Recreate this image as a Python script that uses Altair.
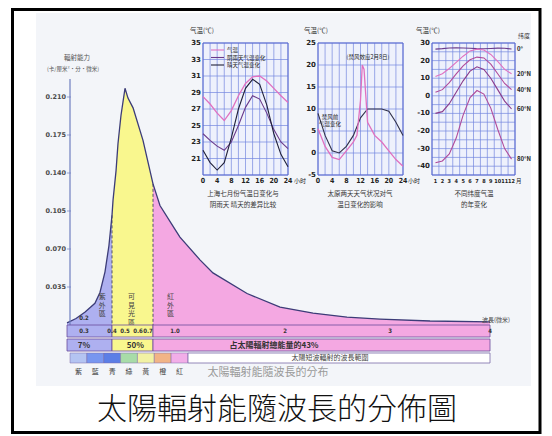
import altair as alt
import pandas as pd

SANS = "Noto Sans CJK TC"
SC = "Noto Sans CJK SC"
NARROW = "Liberation Sans Narrow, DejaVu Sans Condensed, Liberation Sans"

# ---------------- main spectrum data ----------------
WAVE = [0.2, 0.253, 0.304, 0.339, 0.357, 0.375, 0.389, 0.4, 0.408, 0.431, 0.446, 0.469, 0.5, 0.523,
        0.562, 0.65, 0.76, 0.836, 1.0, 1.045, 1.227, 1.345, 1.655, 1.955, 2.267, 2.59, 2.905, 3.4, 4.0]
ENERGY = [0.002, 0.006, 0.012, 0.020, 0.030, 0.049, 0.073, 0.101, 0.115, 0.142, 0.167, 0.193, 0.218, 0.209,
          0.200, 0.170, 0.130, 0.110, 0.088, 0.081, 0.060, 0.048, 0.029, 0.0165, 0.011, 0.0073, 0.0055, 0.0037, 0.0028]
REGION_EDGES = [0.2, 0.4, 0.76, 4.0]
REGION_NAMES = ["紫\n外\n區", "可\n見\n光\n區", "紅\n外\n區"]
REGION_COLORS = ["#aeb0f0", "#f9f78e", "#f4a8e2"]
REGION_SHARE = ["7%", "50%", "占太陽輻射總能量的43%"]
Y_TICKS = [0.035, 0.070, 0.105, 0.140, 0.175, 0.210]
WL_TICKS = [0.3, 0.4, 0.5, 0.6, 0.7, 1.0, 2, 3, 4]
WL_LABELS = ["0.3", "0.4", "0.5", "0.6", "0.7", "1.0", "2", "3", "4"]
SPEC_NAMES = ["紫", "藍", "青", "綠", "黃", "橙", "紅"]
SPEC_COLORS = ["#b4c4f2", "#7896f0", "#5c7ee6", "#a8dca8", "#f2f2a4", "#f2b486", "#f2aee8"]

# ---------------- inset data ----------------
HOURS = [0, 2, 4, 6, 8, 10, 12, 14, 16, 18, 20, 22, 24]
SH_TEMP = [28.5, 27.6, 26.5, 25.6, 26.8, 28.6, 30.1, 30.9, 31.0, 30.4, 29.5, 28.6, 27.8]
SH_RAIN = [24.0, 23.2, 22.5, 22.0, 23.0, 25.0, 27.2, 28.6, 28.2, 26.5, 24.5, 23.0, 22.2]
SH_SUN = [22.0, 20.5, 19.6, 20.5, 23.5, 27.0, 29.5, 30.6, 30.0, 27.5, 24.0, 21.5, 20.0]
I1_YT = [21, 23, 25, 27, 29, 31, 33, 35]

FOEHN_H = [0, 2, 4, 6, 8, 10, 11, 12, 12.5, 13, 14, 16, 18, 20, 22, 24]
FOEHN_T = [5.5, 1.5, -1.0, -1.5, 0.5, 2.5, 4.0, 12.0, 20.0, 19.0, 7.0, 4.0, 2.5, 0.5, -1.5, -3.0]
NORMAL_T = [9, 4, 0.5, 0, 1.5, 4, 8, 10, 10, 10, 9.5, 7, 4]
I2_YT = [-5, 0, 5, 10, 15, 20, 25]

MONTHS = list(range(1, 13))
LAT_00 = [26.5, 26.8, 27.2, 27.3, 27.2, 27.0, 26.8, 26.7, 26.9, 27.1, 27.0, 26.6]
LAT_20 = [11, 12.5, 15.5, 19, 22.5, 25.5, 26.5, 26, 23.5, 19.5, 15, 12.5]
LAT_40 = [2, 3.5, 7.5, 12.5, 17, 20.5, 22, 21.5, 18, 12.5, 7, 3.5]
LAT_60 = [-10, -9, -4.5, 2, 8.5, 14, 16.5, 15, 10, 3.5, -3, -7.5]
LAT_80 = [-38, -37, -33, -24, -11, -1, 3, 1, -7, -19, -30, -36]
LAT_NAMES = ["0°", "20°N", "40°N", "60°N", "80°N"]
I3_YT = [-40, -30, -20, -10, 0, 10, 20, 30]

W, H = 536, 426


def P(v):
    return v - 8


def one():
    return pd.DataFrame({"k": [0]})


def label(text, x, y, size=7, color="#333333", align="center", baseline="middle",
          font=SC, weight="normal", lh=None):
    kw = dict(fontSize=size, color=color, align=align, baseline=baseline, font=font, fontWeight=weight)
    if "\n" in text:
        kw["lineBreak"] = "\n"
        kw["lineHeight"] = lh or size + 1
    return alt.Chart(pd.DataFrame({"t": [text]})).mark_text(**kw).encode(
        x=alt.value(P(x)), y=alt.value(P(y)), text="t:N")


def box(x0, y0, x1, y1, fill="none", stroke=None, sw=1.0):
    kw = dict(fill=fill)
    if stroke:
        kw.update(stroke=stroke, strokeWidth=sw)
    else:
        kw.update(strokeWidth=0)
    return alt.Chart(one()).mark_rect(**kw).encode(
        x=alt.value(P(x0)), x2=alt.value(P(x1)), y=alt.value(P(y0)), y2=alt.value(P(y1)))


layers = []

# page frame and image background
layers.append(box(36, 13, 531, 386, fill="#f3f5f9"))
layers.append(alt.Chart(one()).mark_rect(fill="none", stroke="#000000", strokeWidth=3).encode(
    x=alt.value(4.5), x2=alt.value(P(540)), y=alt.value(1.5), y2=alt.value(H - 1.5)))

# ---------------- main chart ----------------
PX_W = [0.2, 0.3, 0.4, 0.5, 0.6, 0.7, 0.76, 1.0, 2, 3, 4]
PX_P = [67, 84, 112, 125, 138, 148, 153, 175, 285, 390, 490]
mx = alt.Scale(domain=PX_W, range=[P(v) for v in PX_P], nice=False, zero=False)
my = alt.Scale(domain=[0, 0.21], range=[P(325), P(97)], nice=False, zero=False)

curve = pd.DataFrame({"w": WAVE, "e": ENERGY})
for i in range(3):
    lo, hi = REGION_EDGES[i], REGION_EDGES[i + 1]
    seg = curve[(curve.w >= lo) & (curve.w <= hi)]
    layers.append(alt.Chart(seg).mark_area(color=REGION_COLORS[i], opacity=1).encode(
        x=alt.X("w:Q", scale=mx, axis=None),
        y=alt.Y("e:Q", scale=my, axis=None),
        y2=alt.datum(0)))

# dashed region boundaries
bnd = curve[curve.w.isin([0.4, 0.76])]
layers.append(alt.Chart(bnd).mark_rule(color="#555566", strokeDash=[3, 2], strokeWidth=1).encode(
    x=alt.X("w:Q", scale=mx, axis=None), y=alt.Y("e:Q", scale=my, axis=None), y2=alt.datum(0)))

layers.append(alt.Chart(curve).mark_line(color="#3c3c78", strokeWidth=1.3).encode(
    x=alt.X("w:Q", scale=mx, axis=None), y=alt.Y("e:Q", scale=my, axis=None)))

# y axis
layers.append(alt.Chart(one()).mark_rule(color="#6f7fbf", strokeWidth=1.2).encode(
    x=alt.value(P(70)), y=alt.value(P(79)), y2=alt.value(P(326))))
yt = pd.DataFrame({"v": Y_TICKS, "t": ["%.3f" % v for v in Y_TICKS]})
layers.append(alt.Chart(yt).mark_tick(color="#6f7fbf", thickness=1, size=4, orient="horizontal").encode(
    y=alt.Y("v:Q", scale=my, axis=None), x=alt.value(P(69))))
layers.append(alt.Chart(yt).mark_text(fontSize=6.5, color="#4a4a4a", align="right", font="DejaVu Sans",
                                      fontWeight="bold").encode(
    y=alt.Y("v:Q", scale=my, axis=None), x=alt.value(P(66)), text="t:N"))
layers.append(label("輻射能力", 77, 58, size=6.5, color="#555555"))
layers.append(label("(卡/厘米²·分·微米)", 73, 69, size=5.5, color="#555555"))

# region names
reg = pd.DataFrame({"w": [0.365, 0.55, 0.95], "t": REGION_NAMES})
for i in range(3):
    layers.append(alt.Chart(reg.iloc[[i]]).mark_text(fontSize=7, color="#444444", font=SANS, lineBreak="\n",
                                                     lineHeight=8.5, baseline="middle").encode(
        x=alt.X("w:Q", scale=mx, axis=None), y=alt.value(P(297)), text="t:N"))

# bands below
bands = pd.DataFrame({"x0": REGION_EDGES[:-1], "x1": REGION_EDGES[1:], "c": REGION_COLORS, "s": REGION_SHARE})
for (y0, y1) in [(325, 337), (339, 351)]:
    layers.append(alt.Chart(bands).mark_rect(stroke="#6a4c9c", strokeWidth=0.8).encode(
        x=alt.X("x0:Q", scale=mx, axis=None), x2="x1:Q",
        y=alt.value(P(y0)), y2=alt.value(P(y1)),
        color=alt.Color("c:N", scale=None)))
wl = pd.DataFrame({"w": WL_TICKS, "t": WL_LABELS})
layers.append(alt.Chart(wl).mark_text(fontSize=6, color="#333333", font=NARROW, fontWeight="bold").encode(
    x=alt.X("w:Q", scale=mx, axis=None), y=alt.value(P(331)), text="t:N"))
layers.append(label("0.2", 84, 318, size=6, font=NARROW, weight="bold"))
layers.append(label("波長(微米)", 496, 320, size=6, color="#444444"))
share_pos = pd.DataFrame({"w": [0.3, 0.58, 1.9], "t": REGION_SHARE})
layers.append(alt.Chart(share_pos).mark_text(fontSize=8, color="#333333", font=SANS, fontWeight="bold").encode(
    x=alt.X("w:Q", scale=mx, axis=None), y=alt.value(P(345.5)), text="t:N"))

# colour spectrum strip
spec = pd.DataFrame({"c": SPEC_NAMES})
sx = alt.Scale(domain=SPEC_NAMES, range=[P(70), P(188)], paddingInner=0, paddingOuter=0)
layers.append(alt.Chart(spec).mark_rect(stroke="#7a6aa8", strokeWidth=0.5).encode(
    x=alt.X("c:N", scale=sx, axis=None, sort=None), y=alt.value(P(353)), y2=alt.value(P(363)),
    color=alt.Color("c:N", scale=alt.Scale(domain=SPEC_NAMES, range=SPEC_COLORS), legend=None)))
layers.append(alt.Chart(spec).mark_text(fontSize=7, color="#444444", font=SANS).encode(
    x=alt.X("c:N", scale=sx, axis=None, sort=None), y=alt.value(P(372)), text="c:N"))
layers.append(box(188, 353, 490, 363, fill="#ffffff", stroke="#7a6aa8", sw=0.8))
layers.append(label("太陽短波輻射的波長範圍", 330, 358, size=7, color="#444444", font=SANS))
layers.append(label("太陽輻射能隨波長的分布", 268, 373, size=11, color="#9a9a9a", font=SANS))

# ---------------- insets ----------------
GRID = "#7486e0"
PLOT_BG = "#eef1fc"


def inset(x0, x1, xdom, ydom, xgrid, ygrid, ylabels, ytext, xlabels, xtext, xfs=7):
    xs = alt.Scale(domain=xdom, range=[P(x0), P(x1)], nice=False, zero=False)
    ys = alt.Scale(domain=ydom, range=[P(175), P(43)], nice=False, zero=False)
    out = [box(x0, 43, x1, 175, fill=PLOT_BG)]
    out.append(alt.Chart(pd.DataFrame({"g": xgrid})).mark_rule(color=GRID, strokeWidth=0.7).encode(
        x=alt.X("g:Q", scale=xs, axis=None), y=alt.value(P(43)), y2=alt.value(P(175))))
    out.append(alt.Chart(pd.DataFrame({"g": ygrid})).mark_rule(color=GRID, strokeWidth=0.7).encode(
        y=alt.Y("g:Q", scale=ys, axis=None), x=alt.value(P(x0)), x2=alt.value(P(x1))))
    out.append(box(x0, 43, x1, 175, stroke="#5a6ad0", sw=1.0))
    out.append(alt.Chart(pd.DataFrame({"v": ylabels, "t": ytext})).mark_text(
        fontSize=7, color="#222222", align="right", font="DejaVu Sans", fontWeight="bold").encode(
        y=alt.Y("v:Q", scale=ys, axis=None), x=alt.value(P(x0 - 2)), text="t:N"))
    out.append(alt.Chart(pd.DataFrame({"v": xlabels, "t": xtext})).mark_text(
        fontSize=xfs, color="#222222", font=NARROW, fontWeight="bold").encode(
        x=alt.X("v:Q", scale=xs, axis=None), y=alt.value(P(181)), text="t:N"))
    return xs, ys, out


def series(xs, ys, xv, yv, color, sw=1.1):
    return alt.Chart(pd.DataFrame({"x": xv, "y": yv})).mark_line(color=color, strokeWidth=sw).encode(
        x=alt.X("x:Q", scale=xs, axis=None), y=alt.Y("y:Q", scale=ys, axis=None))


HL = [0, 4, 8, 12, 16, 20, 24]
HT = [str(h) for h in HL]

# inset 1
xs1, ys1, o = inset(203, 288, [0, 24], [19, 35], HOURS, [19] + I1_YT, I1_YT, [str(v) for v in I1_YT], HL, HT)
layers += o
layers.append(series(xs1, ys1, HOURS, SH_RAIN, "#6a3a8a"))
layers.append(series(xs1, ys1, HOURS, SH_SUN, "#20203a"))
layers.append(series(xs1, ys1, HOURS, SH_TEMP, "#e070c0", 1.3))
for i, (txt, col) in enumerate([("气温", "#e070c0"), ("阴雨天气温变化", "#6a3a8a"), ("晴天气温变化", "#20203a")]):
    yy = 50 + i * 7.5
    layers.append(alt.Chart(one()).mark_rule(color=col, strokeWidth=1.1).encode(
        x=alt.value(P(211)), x2=alt.value(P(224)), y=alt.value(P(yy))))
    layers.append(label(txt, 227, yy, size=5.5, align="left", color="#222222"))
layers.append(label("气温(℃)", 202, 31, size=6.5, color="#333333"))
layers.append(label("小时", 294, 181, size=6, color="#222222", align="left"))
layers.append(label("上海七月份气温日变化与", 243, 194, size=6.5, color="#333333"))
layers.append(label("阴雨天 晴天的差异比较", 243, 205, size=6.5, color="#333333"))

# inset 2
xs2, ys2, o = inset(318, 403, [0, 24], [-5, 25], HOURS, I2_YT, I2_YT, [str(v) for v in I2_YT], HL, HT)
layers += o
layers.append(series(xs2, ys2, HOURS, NORMAL_T, "#30304a"))
layers.append(series(xs2, ys2, FOEHN_H, FOEHN_T, "#e070c0", 1.3))
layers.append(label("(焚风效应2月8日)", 368, 57, size=5.5, color="#222222"))
layers.append(label("焚风前\n气温变化", 330, 117, size=5.5, color="#222222"))
layers.append(label("气温(℃)", 316, 31, size=6.5, color="#333333"))
layers.append(label("小时", 408, 181, size=6, color="#222222", align="left"))
layers.append(label("太原两天天气状况对气", 360, 194, size=6.5, color="#333333"))
layers.append(label("温日变化的影响", 360, 205, size=6.5, color="#333333"))

# inset 3
xs3, ys3, o = inset(432, 515, [0.5, 12.5], [-45, 30], [0.5] + [m + 0.5 for m in MONTHS],
                    list(range(-45, 31, 5)), I3_YT, [str(v) for v in I3_YT], MONTHS, [str(m) for m in MONTHS],
                    xfs=5.5)
layers += o
for vals, col in [(LAT_00, "#6a3a8a"), (LAT_20, "#e070c0"), (LAT_40, "#b04a9a"), (LAT_60, "#8a3a8a"),
                  (LAT_80, "#b04a9a")]:
    layers.append(series(xs3, ys3, MONTHS, vals, col))
lat_end = pd.DataFrame({"v": [LAT_00[-1], LAT_20[-1], LAT_40[-1], LAT_60[-1], LAT_80[-1]], "t": LAT_NAMES})
layers.append(alt.Chart(lat_end).mark_text(fontSize=6, color="#222222", align="left", font=SC,
                                            fontWeight="bold").encode(
    y=alt.Y("v:Q", scale=ys3, axis=None), x=alt.value(P(517)), text="t:N"))
layers.append(label("气温(℃)", 428, 31, size=6.5, color="#333333"))
layers.append(label("纬度", 524, 36, size=6, color="#333333"))
layers.append(label("月", 516, 181, size=5.5, color="#222222", align="left"))
layers.append(label("不同纬度气温", 474, 194, size=6.5, color="#333333"))
layers.append(label("的年变化", 474, 205, size=6.5, color="#333333"))

# caption
layers.append(label("太陽輻射能隨波長的分佈圖", 277, 410, size=30, color="#111111", font=SANS, weight=300))

chart = alt.layer(*layers).resolve_scale(x="independent", y="independent", color="independent").properties(
    width=W, height=H, padding=0, autosize=alt.AutoSizeParams(type="none"), background="white"
).configure_view(stroke=None)

chart.save("out.html", embed_options={"renderer": "svg", "actions": False})
